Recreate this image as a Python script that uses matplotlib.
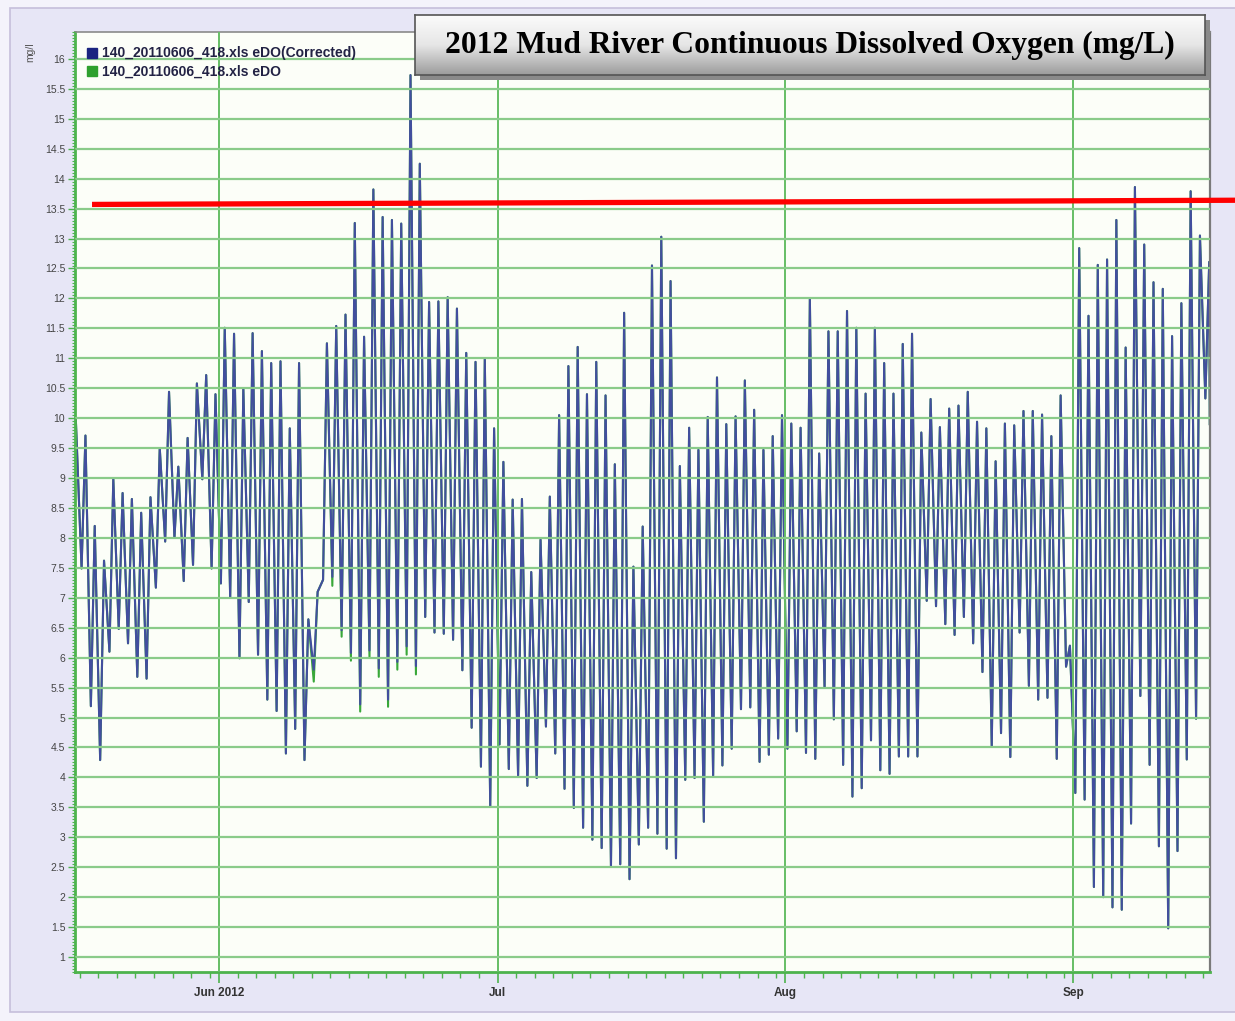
import numpy as np
import pandas as pd
import matplotlib
matplotlib.use("Agg")
import matplotlib.pyplot as plt
import matplotlib.dates as mdates
from matplotlib.lines import Line2D
from matplotlib.patches import Rectangle

# daily minimum / maximum dissolved oxygen (mg/L), 17 May - 15 Sep 2012
start_day = "2012-05-17"
end_day = "2012-09-15"
first_value = 10.0
last_value = 9.9

do_min = [
    # May 17-31
    7.49, 5.19, 4.29, 6.10, 6.48, 6.24, 5.68, 5.65, 7.17, 7.94, 8.00, 7.28, 7.55, 8.98, 7.49,
    # Jun
    7.24, 7.00, 5.99, 6.93, 6.05, 5.30, 5.11, 4.40, 4.81, 4.29, 5.80, 7.30, 7.35, 6.46, 6.08,
    5.22, 6.12, 5.82, 5.30, 5.93, 6.19, 5.86, 6.68, 6.42, 6.40, 6.30, 5.79, 4.83, 4.18, 3.52,
    # Jul
    4.55, 4.14, 4.03, 3.86, 3.99, 4.85, 4.40, 3.81, 3.49, 3.16, 2.96, 2.82, 2.52, 2.55, 2.30,
    2.88, 3.16, 3.06, 2.81, 2.65, 3.96, 3.99, 3.26, 4.03, 4.20, 4.48, 5.14, 5.17, 4.26, 4.38, 4.65,
    # Aug
    4.48, 4.77, 4.41, 4.31, 5.50, 4.97, 4.21, 3.68, 3.82, 4.62, 4.12, 4.06, 4.35, 4.35, 4.35,
    6.95, 6.86, 6.56, 6.38, 6.68, 6.24, 5.76, 4.52, 4.74, 4.34, 6.42, 5.53, 5.30, 5.33, 4.31, 5.85,
    # Sep 1-15
    3.74, 3.63, 2.17, 2.00, 1.83, 1.79, 3.23, 5.36, 4.21, 2.85, 1.48, 2.77, 4.30, 4.98, 10.33,
]
do_max = [
    # May 17-31
    9.71, 8.20, 7.62, 8.98, 8.75, 8.65, 8.42, 8.68, 9.50, 10.44, 9.19, 9.67, 10.58, 10.72, 10.40,
    # Jun
    11.51, 11.41, 10.49, 11.42, 11.12, 10.92, 10.95, 9.83, 10.92, 6.64, 7.10, 11.25, 11.54, 11.73, 13.26,
    11.36, 13.82, 13.36, 13.31, 13.25, 15.73, 14.25, 11.94, 11.95, 12.02, 11.83, 11.09, 10.94, 10.99, 9.83,
    # Jul
    9.27, 8.64, 8.65, 7.43, 7.97, 8.69, 10.05, 10.87, 11.19, 10.40, 10.94, 10.38, 9.23, 11.76, 7.52,
    8.19, 12.55, 13.03, 12.29, 9.20, 9.84, 9.47, 10.02, 10.68, 9.90, 10.03, 10.63, 10.14, 9.47, 9.70, 10.05,
    # Aug
    9.91, 9.84, 11.99, 9.41, 11.45, 11.45, 11.79, 11.51, 10.41, 11.51, 10.92, 10.41, 11.24, 11.41, 9.76,
    10.32, 9.85, 10.16, 10.21, 10.44, 9.94, 9.83, 9.28, 9.91, 9.88, 10.12, 10.12, 10.06, 9.70, 10.38, 6.20,
    # Sep 1-15
    12.84, 11.71, 12.56, 12.65, 13.31, 11.18, 13.86, 12.90, 12.27, 12.16, 11.37, 11.92, 13.79, 13.05, 12.61,
]

# uncorrected eDO differs only at a few night-time lows
raw_min_changes = {
    "2012-06-11": 5.60, "2012-06-13": 7.20, "2012-06-14": 6.35, "2012-06-15": 5.95,
    "2012-06-16": 5.10, "2012-06-17": 6.00, "2012-06-18": 5.68, "2012-06-19": 5.18,
    "2012-06-20": 5.80, "2012-06-21": 6.05, "2012-06-22": 5.72,
}

# hand-drawn red reference line
red_x = ["2012-05-18 08:00", "2012-09-18 12:00"]
red_y = [13.57, 13.64]

y_ticks = np.arange(1, 16.01, 0.5)
month_ticks = ["2012-06-01", "2012-07-01", "2012-08-01", "2012-09-01"]
month_labels = ["Jun 2012", "Jul", "Aug", "Sep"]
legend_labels = ["140_20110606_418.xls eDO(Corrected)", "140_20110606_418.xls eDO"]
title = "2012 Mud River Continuous Dissolved Oxygen (mg/L)"


def build_series(lows):
    days = pd.date_range(start_day, end_day, freq="D")
    t = [days[0] - pd.Timedelta(hours=10)]
    v = [first_value]
    for day, lo, hi in zip(days, lows, do_max):
        t += [day + pd.Timedelta(hours=5), day + pd.Timedelta(hours=15)]
        v += [lo, hi]
    t.append(days[-1] + pd.Timedelta(hours=16, minutes=30))
    v.append(last_value)
    return t, v


days = pd.date_range(start_day, end_day, freq="D")
raw_min = list(do_min)
for k, val in raw_min_changes.items():
    raw_min[days.get_loc(pd.Timestamp(k))] = val

t_cor, v_cor = build_series(do_min)
t_raw, v_raw = build_series(raw_min)

W, H = 1235, 1021
fig = plt.figure(figsize=(W / 100, H / 100), dpi=100, facecolor="#f4f3fb")
fig.patches.append(Rectangle((10 / W, 1 - 1012 / H), 1230 / W, 1004 / H, transform=fig.transFigure,
                             facecolor="#e7e6f6", edgecolor="#c6bfdb", lw=1.2, zorder=-5))

ax = fig.add_axes([75 / W, 1 - 972 / H, 1135 / W, 940 / H], zorder=1)
ax.set_facecolor("#fcfef8")

green = "#4db34d"
ax.plot(t_raw, v_raw, color="#39a839", lw=1.5, zorder=2)
ax.plot(t_cor, v_cor, color="#424e9e", lw=1.5, zorder=2.1)

ax.set_xlim(pd.Timestamp("2012-05-16 12:00"), pd.Timestamp("2012-09-15 17:00"))
ax.set_ylim(0.75, 16.45)

ax.set_yticks(y_ticks)
ax.set_yticklabels([f"{v:g}" for v in y_ticks])
ax.yaxis.set_minor_locator(matplotlib.ticker.MultipleLocator(0.05))
ax.set_xticks([pd.Timestamp(m) for m in month_ticks])
ax.set_xticklabels(month_labels, fontweight="bold")
ax.xaxis.set_minor_locator(mdates.DayLocator(bymonthday=range(1, 32, 2)))

ax.tick_params(axis="y", which="major", length=5, width=1, color=green, labelsize=7.5,
               labelcolor="#444444", pad=2)
ax.tick_params(axis="y", which="minor", length=2.5, width=0.8, color=green)
ax.tick_params(axis="x", which="major", length=8, width=1.2, color=green, labelsize=8.5,
               labelcolor="#333333", pad=3)
ax.tick_params(axis="x", which="minor", length=4, width=1, color=green)
for lab in ax.get_yticklabels() + ax.get_xticklabels():
    lab.set_family(["Liberation Sans", "DejaVu Sans"])

ax.grid(axis="y", which="major", color="#8acb8a", lw=1.6)
ax.grid(axis="x", which="major", color="#66be66", lw=1.4)
ax.set_axisbelow(False)

ax.spines["left"].set_color(green)
ax.spines["bottom"].set_color(green)
ax.spines["left"].set_linewidth(2)
ax.spines["bottom"].set_linewidth(2)
ax.spines["top"].set_color("#8a8a8a")
ax.spines["right"].set_color("#7a7a7a")
ax.spines["top"].set_linewidth(1.2)
ax.spines["right"].set_linewidth(1.6)

# red threshold line drawn over the chart
ax.plot([pd.Timestamp(x) for x in red_x], red_y, color="#ff0000", lw=3.8,
        solid_capstyle="butt", clip_on=False, zorder=6)

handles = [Line2D([], [], marker="s", ls="none", markersize=6.5, color="#1a2480"),
           Line2D([], [], marker="s", ls="none", markersize=6.5, color="#2ea02e")]
leg = ax.legend(handles, legend_labels, loc="upper left", bbox_to_anchor=(0.003, 0.992),
                frameon=False, borderpad=0, handletextpad=0.2, labelspacing=0.3,
                handlelength=1.0, prop={"family": "Liberation Sans", "weight": "bold", "size": 10})
for txt in leg.get_texts():
    txt.set_color("#222244")
leg.set_zorder(7)

fig.text(30 / W, 1 - 52 / H, "mg/l", rotation=90, ha="center", va="center", fontsize=7.5,
         color="#555555", family="Liberation Sans")

# title box with shadow and gradient
bx, by, bw, bh = 415, 15, 790, 60
fig.patches.append(Rectangle(((bx + 5) / W, 1 - (by + bh + 5) / H), bw / W, bh / H,
                             transform=fig.transFigure, facecolor="#8a8a8a", edgecolor="none", zorder=8))
tax = fig.add_axes([bx / W, 1 - (by + bh) / H, bw / W, bh / H], zorder=9)
grad = np.linspace(0, 1, 100).reshape(-1, 1)
tax.imshow(grad, cmap=matplotlib.colors.LinearSegmentedColormap.from_list("g", ["#fbfbfb", "#e6e6e6", "#9c9c9c"]),
           aspect="auto", extent=(0, 1, 0, 1), origin="upper")
tax.set_xlim(0, 1)
tax.set_ylim(0, 1)
tax.set_xticks([])
tax.set_yticks([])
for s in tax.spines.values():
    s.set_color("#555555")
    s.set_linewidth(1.2)
tax.text(0.5, 0.5, title, ha="center", va="center", fontsize=22.7, fontweight="bold",
         family="Liberation Serif", color="#000000")

fig.savefig("out.png", dpi=100, facecolor=fig.get_facecolor())
